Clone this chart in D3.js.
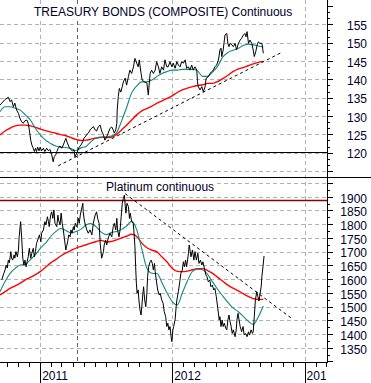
<!DOCTYPE html>
<html><head><meta charset="utf-8">
<script src="https://cdn.jsdelivr.net/npm/d3@7"></script>
<style>
body{margin:0;background:#fff}
svg{display:block}
text{font-family:"Liberation Sans",Arial,sans-serif}
</style>
</head><body>
<svg id="c" width="371" height="383"></svg>
<script>
// ---------- DATA (days counted from seriesStart) ----------
const seriesStart = "2010-09-12";
const xDomain = ["2010-09-12", "2013-03-04"];
const maStepDays = 14;

const bondTitle = "TREASURY BONDS (COMPOSITE) Continuous";
const platTitle = "Platinum continuous";

const bondPrice = [
[0,133.0],[5,133.5],[14,134.5],[23,135.1],[28,133.9],[32,134.4],[37,132.5],[41,133.5],[46,131.6],[51,130.7],
[55,129.4],[60,128.4],[64,128.0],[69,128.7],[74,128.9],[78,128.0],[81,126.2],[85,123.4],[88,122.1],[92,121.2],
[95,120.3],[98,121.2],[101,120.3],[104,121.5],[108,120.5],[111,121.5],[115,120.5],[120,121.2],[124,120.3],[129,121.2],
[134,120.5],[138,120.9],[143,119.4],[147,117.5],[150,118.9],[154,119.4],[157,120.3],[161,121.2],[166,121.8],[171,121.2],
[175,122.1],[180,123.4],[182,123.9],[186,122.7],[191,121.5],[195,120.9],[200,120.5],[205,120.7],[207,118.9],[211,119.6],
[215,120.5],[219,121.5],[224,122.1],[229,123.0],[232,123.9],[237,124.5],[241,125.1],[245,125.4],[249,126.2],[254,126.7],
[258,127.1],[263,126.2],[267,125.9],[272,127.1],[277,127.5],[281,125.9],[286,124.8],[290,123.4],[295,124.3],[299,125.3],
[304,126.6],[309,127.0],[313,126.2],[316,125.3],[320,126.2],[323,128.0],[324,131.6],[327,135.3],[330,137.5],[334,136.5],
[338,138.0],[341,139.3],[346,140.3],[350,138.4],[355,140.7],[359,142.5],[364,141.6],[369,143.4],[373,145.7],[378,144.4],
[382,143.4],[385,145.3],[390,141.6],[393,139.8],[399,139.3],[406,139.0],[410,135.7],[415,141.6],[419,142.5],[424,141.6],
[429,142.5],[433,144.8],[438,143.4],[442,141.6],[447,143.4],[452,142.5],[456,145.3],[461,143.4],[465,143.4],[470,144.8],
[475,143.4],[479,144.4],[484,143.0],[489,144.8],[493,143.9],[498,143.4],[502,144.8],[507,144.4],[512,145.3],[516,143.0],
[521,143.4],[525,142.5],[530,143.9],[534,142.5],[539,143.4],[544,142.5],[546,139.3],[548,138.0],[553,137.1],[558,138.0],
[562,136.6],[567,138.0],[570,140.3],[576,140.7],[581,141.6],[585,142.1],[590,142.5],[594,143.4],[599,143.9],[604,145.3],
[608,148.0],[611,148.5],[613,146.2],[617,148.0],[622,152.1],[627,152.5],[630,149.8],[633,148.9],[636,149.8],[641,149.4],
[645,148.9],[650,149.8],[654,148.0],[659,149.8],[664,150.7],[668,151.2],[673,152.1],[677,152.5],[680,151.6],[683,153.0],
[687,149.8],[691,150.7],[696,149.8],[700,148.0],[703,146.2],[707,147.5],[711,149.4],[714,150.2],[719,149.8],[724,149.8],
[728,147.1]
];
const bondMAShort = [131.2,132.5,132.5,132.1,131.6,130.3,128.9,126.6,124.8,123.4,
122.5,121.8,121.5,121.4,121.1,120.6,121.3,121.7,123.0,124.0,
124.2,124.3,124.5,125.4,128.6,132.3,136.3,138.2,139.3,139.3,
139.8,140.8,141.6,142.1,142.5,142.5,142.7,142.7,142.7,142.3,
140.8,140.8,142.0,143.6,146.1,147.3,147.9,148.4,149.2,149.6,
149.4,149.1,148.8];
const bondMALong = [124.8,125.9,126.7,127.3,127.5,127.5,127.3,126.9,126.4,126.0,
125.6,125.3,124.9,124.6,124.1,123.6,123.3,123.4,123.7,124.0,
124.2,124.1,124.2,124.9,126.2,127.5,128.9,130.3,131.4,132.0,
132.7,133.5,134.1,134.8,135.5,136.4,137.1,137.6,138.0,138.3,
138.5,138.9,138.9,139.4,140.2,141.1,142.1,142.8,143.2,143.7,
144.2,144.6,144.9];
const bondTrend = [["2011-02-20",116.4],["2012-11-02",147.5]];
const bondLevel = 120.2;
const bondTicks = [120,125,130,135,140,145,150,155];
const bondGrid = [115,120,125,130,135,140,145,150,155];

const platPrice = [
[5,1597],[9,1615],[14,1633],[17,1651],[20,1640],[23,1669],[26,1659],[30,1700],[32,1677],[35,1669],
[39,1688],[41,1676],[44,1700],[48,1681],[51,1706],[53,1754],[57,1809],[60,1748],[63,1676],[66,1651],
[69,1669],[72,1645],[75,1663],[78,1681],[81,1712],[85,1676],[88,1694],[92,1712],[95,1681],[98,1700],
[101,1730],[106,1748],[109,1761],[113,1736],[115,1767],[120,1779],[124,1809],[127,1797],[131,1827],[134,1809],
[136,1791],[140,1833],[143,1845],[146,1821],[149,1852],[152,1803],[157,1791],[160,1833],[162,1815],[166,1797],
[169,1840],[172,1803],[175,1779],[178,1748],[182,1706],[184,1718],[187,1736],[190,1761],[194,1754],[196,1779],
[199,1767],[203,1791],[205,1779],[208,1803],[212,1791],[217,1821],[219,1803],[222,1833],[225,1852],[229,1876],
[230,1845],[233,1815],[236,1797],[240,1779],[244,1767],[249,1779],[254,1761],[258,1803],[263,1833],[267,1845],
[270,1821],[274,1803],[277,1730],[281,1676],[286,1700],[288,1724],[292,1742],[295,1724],[299,1748],[304,1767],
[309,1754],[313,1791],[316,1803],[320,1779],[323,1821],[325,1779],[329,1754],[332,1779],[335,1827],[338,1876],
[341,1894],[344,1906],[346,1870],[348,1840],[351,1876],[355,1864],[358,1821],[360,1840],[364,1809],[368,1803],
[370,1779],[373,1718],[375,1645],[377,1585],[379,1548],[382,1560],[384,1524],[387,1487],[390,1469],[392,1499],
[395,1548],[397,1572],[400,1524],[403,1499],[406,1548],[408,1609],[411,1645],[415,1663],[418,1669],[421,1657],
[424,1633],[427,1657],[429,1627],[432,1597],[436,1560],[440,1542],[443,1548],[447,1524],[451,1512],[454,1481],
[458,1463],[461,1427],[464,1439],[467,1415],[470,1427],[473,1390],[475,1372],[478,1415],[480,1427],[484,1451],
[487,1499],[489,1524],[493,1554],[497,1590],[500,1621],[504,1633],[507,1663],[510,1645],[513,1669],[516,1645],
[521,1694],[523,1724],[526,1700],[528,1681],[532,1706],[536,1669],[539,1700],[543,1669],[547,1694],[550,1657],
[554,1669],[558,1651],[561,1663],[565,1639],[569,1615],[572,1609],[576,1590],[580,1597],[583,1572],[587,1578],
[591,1560],[594,1566],[598,1536],[602,1494],[606,1451],[608,1463],[611,1427],[614,1451],[617,1427],[620,1439],
[624,1421],[627,1415],[630,1451],[633,1469],[636,1445],[639,1427],[642,1402],[645,1415],[650,1390],[653,1415],
[655,1451],[658,1475],[661,1451],[664,1427],[668,1408],[672,1427],[675,1396],[679,1402],[683,1390],[687,1408],
[690,1396],[694,1415],[698,1402],[700,1408],[703,1463],[706,1524],[710,1554],[713,1536],[716,1520],[719,1548],
[722,1572],[724,1609],[727,1645],[730,1684]
];
const platMAShort = [1554,1591,1621,1639,1651,1653,1671,1689,1713,1731,
1755,1773,1784,1777,1768,1773,1782,1797,1802,1790,
1771,1762,1770,1773,1781,1793,1811,1779,1710,1640,
1621,1620,1586,1549,1518,1506,1549,1593,1628,1636,
1634,1617,1589,1562,1538,1515,1495,1482,1465,1447,
1435,1462,1502];
const platMALong = [1542,1554,1566,1575,1585,1597,1606,1616,1628,1643,
1659,1671,1684,1695,1704,1713,1719,1725,1731,1737,
1741,1736,1737,1743,1750,1756,1763,1755,1731,1714,
1705,1699,1680,1662,1639,1628,1627,1629,1634,1638,
1638,1631,1621,1606,1592,1578,1567,1558,1547,1537,
1529,1526,1526];
const platTrend = [["2011-08-24",1911],["2012-11-28",1455]];
const platLevel = 1889;
const platTicks = [1350,1400,1450,1500,1550,1600,1650,1700,1750,1800,1850,1900];
const platGrid = [1350,1400,1450,1500,1550,1600,1650,1700,1750,1800,1850,1900,1950];

const yearLabels = ["2011","2012","2013"];
const markerDate = "2011-04-14";

// ---------- LAYOUT ----------
const plotW = 327, sepY = 177, botY = 362;
const svg = d3.select("#c");
const parse = d3.utcParse("%Y-%m-%d");
const t0 = parse(seriesStart);
const dayToDate = d => new Date(t0.getTime() + d * 864e5);

const x = d3.scaleUtc().domain(xDomain.map(parse)).range([0, plotW]);
const yB = d3.scaleLinear().domain([115, 155]).range([170.97, 24.3]);
const yP = d3.scaleLinear().domain([1350, 1900]).range([347.7, 196.7]);

const defs = svg.append("defs");
defs.append("clipPath").attr("id","clipT").append("rect").attr("x",0).attr("y",0).attr("width",plotW).attr("height",sepY);
defs.append("clipPath").attr("id","clipB").append("rect").attr("x",0).attr("y",sepY).attr("width",plotW).attr("height",botY-sepY);
defs.append("clipPath").attr("id","clipX").append("rect").attr("x",0).attr("y",botY).attr("width",plotW-1).attr("height",30);

const gridCol = "#b2b2b2";
const snap = v => Math.round(v) + 0.5;
svg.append("g").selectAll("line").data(bondGrid).join("line")
  .attr("x1",0).attr("x2",plotW).attr("y1",d=>snap(yB(d))).attr("y2",d=>snap(yB(d)))
  .attr("stroke",gridCol).attr("stroke-dasharray","4,3");
svg.append("g").selectAll("line").data(platGrid).join("line")
  .attr("x1",0).attr("x2",plotW).attr("y1",d=>snap(yP(d))).attr("y2",d=>snap(yP(d)))
  .attr("stroke",gridCol).attr("stroke-dasharray","4,3");
const years = yearLabels.map(y => parse(y + "-01-01"));
svg.append("g").selectAll("line").data(years).join("line")
  .attr("x1",d=>snap(x(d))).attr("x2",d=>snap(x(d))).attr("y1",0).attr("y2",botY)
  .attr("stroke",gridCol).attr("stroke-dasharray","4,3");
svg.append("line").attr("x1",snap(x(parse(markerDate)))).attr("x2",snap(x(parse(markerDate))))
  .attr("y1",0).attr("y2",botY).attr("stroke","#666").attr("stroke-dasharray","4,3");

function title(txt, tx, ty) {
  const t = svg.append("text").attr("x",tx).attr("y",ty).attr("font-size",12).attr("fill","#000028").text(txt);
  const bb = t.node().getBBox();
  svg.insert("rect", () => t.node()).attr("x",bb.x-1).attr("y",bb.y).attr("width",bb.width+2).attr("height",bb.height).attr("fill","#fff");
}
title(bondTitle, 34, 15.5);
title(platTitle, 106, 191);

const gT = svg.append("g").attr("clip-path","url(#clipT)");
const gB = svg.append("g").attr("clip-path","url(#clipB)");

gT.append("line").attr("x1",0).attr("x2",plotW).attr("y1",snap(yB(bondLevel))).attr("y2",snap(yB(bondLevel))).attr("stroke","#000");
gB.append("line").attr("x1",0).attr("x2",plotW).attr("y1",snap(yP(platLevel))).attr("y2",snap(yP(platLevel))).attr("stroke","#8b0000").attr("stroke-width",1.3);

const lineP = (ys) => d3.line().x(d=>x(dayToDate(d[0]))).y(d=>ys(d[1]));
const lineMA = (ys) => d3.line().x((d,i)=>x(dayToDate(i*maStepDays))).y(d=>ys(d)).curve(d3.curveMonotoneX);
const lineT = (ys) => d3.line().x(d=>x(parse(d[0]))).y(d=>ys(d[1]));

const teal = "#0f8a7c", red = "#ff0000";
function draw(g, data, gen, color, w, dash) {
  const p = g.append("path").datum(data).attr("d",gen).attr("fill","none").attr("stroke",color).attr("stroke-width",w);
  if (dash) p.attr("stroke-dasharray",dash);
  return p;
}
draw(gT, bondMALong, lineMA(yB), red, 1.4);
draw(gT, bondMAShort, lineMA(yB), teal, 1.1);
draw(gT, bondPrice, lineP(yB), "#000", 1.0);
draw(gT, bondTrend, lineT(yB), "#000", 1, "3,3");

draw(gB, platMALong, lineMA(yP), red, 1.4);
draw(gB, platMAShort, lineMA(yP), teal, 1.1);
draw(gB, platPrice, lineP(yP), "#000", 1.0);
draw(gB, platTrend, lineT(yP), "#000", 1, "3,3");

// frame lines
svg.append("line").attr("x1",0).attr("x2",371).attr("y1",sepY+0.5).attr("y2",sepY+0.5).attr("stroke","#000");
svg.append("line").attr("x1",plotW+0.5).attr("x2",plotW+0.5).attr("y1",0).attr("y2",botY).attr("stroke","#000");
svg.append("line").attr("x1",0).attr("x2",plotW+1).attr("y1",botY+0.5).attr("y2",botY+0.5).attr("stroke","#000");

// right axis ticks
const tB = d3.range(-1, 29).map(i => ({v: 115 + i*5/3, major: i % 3 === 0}))
  .filter(d => yB(d.v) > 0.5 && yB(d.v) < sepY - 0.5);
svg.append("g").selectAll("line").data(tB).join("line")
  .attr("x1",plotW).attr("x2",d=>plotW + (d.major?6:3))
  .attr("y1",d=>snap(yB(d.v))).attr("y2",d=>snap(yB(d.v))).attr("stroke","#000");
const tP = d3.range(1300, 1976, 25).map(v => ({v, major: v % 50 === 0}))
  .filter(d => yP(d.v) > sepY + 0.5 && yP(d.v) < botY - 0.5);
svg.append("g").selectAll("line").data(tP).join("line")
  .attr("x1",plotW).attr("x2",d=>plotW + (d.major?6:3))
  .attr("y1",d=>snap(yP(d.v))).attr("y2",d=>snap(yP(d.v))).attr("stroke","#000");

svg.append("g").selectAll("text").data(bondTicks).join("text")
  .attr("x",367).attr("y",d=>yB(d)+5.8).attr("text-anchor","end").attr("font-size",12).attr("fill","#000028").text(d=>d);
svg.append("g").selectAll("text").data(platTicks).join("text")
  .attr("x",367).attr("y",d=>yP(d)+5.8).attr("text-anchor","end").attr("font-size",12).attr("fill","#000028").text(d=>d);

// x axis ticks
const months = d3.utcMonth.range(x.domain()[0], x.domain()[1]);
svg.append("g").selectAll("line").data(months).join("line")
  .attr("x1",d=>snap(x(d))).attr("x2",d=>snap(x(d)))
  .attr("y1",botY).attr("y2",d=> d.getUTCMonth()===0 ? 383 : botY+5).attr("stroke","#000");
svg.append("g").attr("clip-path","url(#clipX)").selectAll("text").data(years).join("text")
  .attr("x",d=>x(d)+2).attr("y",380).attr("font-size",12).attr("fill","#000028").text((d,i)=>yearLabels[i]);
</script>
</body></html>
